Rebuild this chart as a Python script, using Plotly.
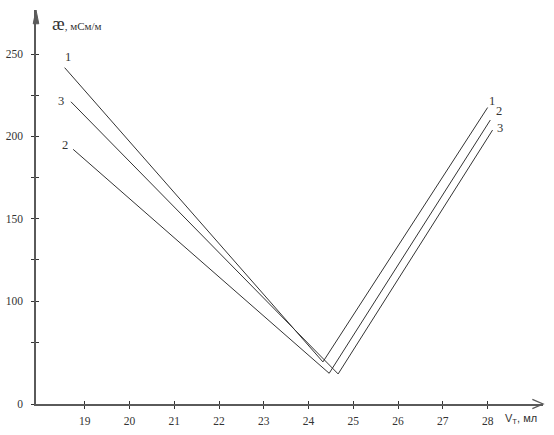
import plotly.graph_objects as go

# ---- data ----
curve_names = ["1", "2", "3"]
vt_1 = [18.55, 24.32, 28.00]
ae_1 = [241.7, 63.0, 217.5]
vt_2 = [18.74, 24.46, 28.06]
ae_2 = [192.1, 56.1, 209.9]
vt_3 = [18.69, 24.66, 28.11]
ae_3 = [221.0, 55.7, 203.8]

x_tick_vals = [19, 20, 21, 22, 23, 24, 25, 26, 27, 28]
y_tick_vals = [37.45, 100, 150, 200, 250]
y_tick_text = ["0", "100", "150", "200", "250"]
y_minor_vals = [75, 125, 175, 225]

X_RANGE = [17.91, 29.237]
Y_RANGE = [37.45, 276.72]

LINE_C = "#333333"
AXIS_C = "#5a5a5a"
TEXT_C = "#333333"
SERIF = "Liberation Serif, Times New Roman, serif"
SANS = "Liberation Sans, Arial, sans-serif"

fig = go.Figure()
for name, xs, ys in [("1", vt_1, ae_1), ("2", vt_2, ae_2), ("3", vt_3, ae_3)]:
    fig.add_trace(go.Scatter(x=xs, y=ys, mode="lines", name=name,
                             line=dict(color=LINE_C, width=1), showlegend=False,
                             hoverinfo="skip"))
# invisible trace on overlay axes (for crossing tick marks)
fig.add_trace(go.Scatter(x=[X_RANGE[0]], y=[Y_RANGE[0]], xaxis="x2", yaxis="y2",
                         mode="markers", marker=dict(opacity=0), showlegend=False,
                         hoverinfo="skip"))

ann = []
label_specs = [
    (vt_1[0], ae_1[0], "1", 3, 11),
    (vt_3[0], ae_3[0], "3", -10, 1),
    (vt_2[0], ae_2[0], "2", -8, 4),
    (vt_1[-1], ae_1[-1], "1", 4, 7),
    (vt_2[-1], ae_2[-1], "2", 9, 9),
    (vt_3[-1], ae_3[-1], "3", 7, 2),
]
for x, y, t, dx, dy in label_specs:
    ann.append(dict(x=x, y=y, xref="x", yref="y", text=t, showarrow=False,
                    xshift=dx, yshift=dy, font=dict(family=SERIF, size=12.5, color=TEXT_C)))

ann.append(dict(xref="paper", yref="paper", x=0.028, y=0.967, xanchor="left", yanchor="middle",
                text="<span style='font-size:19px'>æ</span>, мСм/м", showarrow=False,
                font=dict(family=SERIF, size=11, color=TEXT_C)))
ann.append(dict(xref="paper", yref="paper", x=0.921, y=-0.038, xanchor="left", yanchor="middle",
                text="V<sub>Т</sub>, мл", showarrow=False,
                font=dict(family=SANS, size=11, color=TEXT_C)))

shapes = [
    dict(type="path", xref="paper", yref="paper",
         path="M -0.0055,0.965 L 0,1 L 0.0055,0.965 Z",
         fillcolor=AXIS_C, line=dict(color=AXIS_C, width=1)),
    dict(type="path", xref="paper", yref="paper",
         path="M 0.979,0.0115 L 1,0 L 0.979,-0.0115",
         line=dict(color=AXIS_C, width=1.3)),
]

tick_common = dict(tickcolor="#333", tickwidth=1, ticklen=3)

fig.update_layout(
    width=554, height=435,
    margin=dict(l=36, r=11, t=10, b=31),
    paper_bgcolor="white", plot_bgcolor="white",
    annotations=ann, shapes=shapes,
    xaxis=dict(range=X_RANGE, tickvals=x_tick_vals, ticktext=[str(v) for v in x_tick_vals],
               showgrid=False, zeroline=False, showline=True, linecolor=AXIS_C, linewidth=1.6,
               ticks="outside", automargin=False, **tick_common,
               tickfont=dict(family=SERIF, size=11.5, color=TEXT_C), ticklabelstandoff=2),
    yaxis=dict(range=Y_RANGE, tickvals=y_tick_vals, ticktext=y_tick_text,
               showgrid=False, zeroline=False, showline=True, linecolor=AXIS_C, linewidth=1.6,
               ticks="outside", automargin=False, **tick_common,
               minor=dict(tickvals=y_minor_vals, ticks="outside", ticklen=3,
                          tickcolor="#333", tickwidth=1, showgrid=False),
               tickfont=dict(family=SERIF, size=11.5, color=TEXT_C), ticklabelstandoff=6),
    xaxis2=dict(range=X_RANGE, overlaying="x", anchor="y", side="bottom", tickvals=x_tick_vals,
                showticklabels=False, showgrid=False, zeroline=False, showline=False,
                automargin=False, ticks="inside", **tick_common),
    yaxis2=dict(range=Y_RANGE, overlaying="y", anchor="x", side="left",
                tickvals=y_tick_vals[1:] + y_minor_vals, automargin=False,
                showticklabels=False, showgrid=False, zeroline=False, showline=False,
                ticks="inside", **tick_common),
)

fig.write_html("out.html", config={"displayModeBar": False},
               post_script="document.body.style.margin='0';document.body.style.padding='0';")
